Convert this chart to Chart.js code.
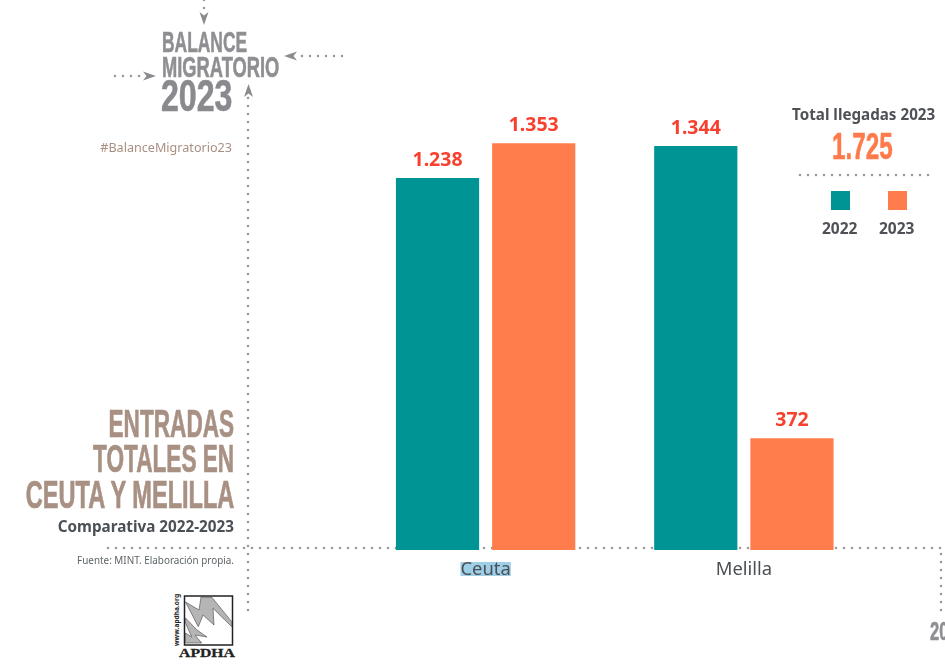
<!DOCTYPE html>
<html lang="es">
<head>
<meta charset="utf-8">
<title>Entradas totales en Ceuta y Melilla</title>
<script src="https://cdn.jsdelivr.net/npm/chart.js@4"></script>
<style>
  html, body { margin: 0; padding: 0; background: #fff; }
  body { position: relative; width: 945px; height: 666px; overflow: hidden; font-family: "Noto Sans", sans-serif; }
  #decor, #chart { position: absolute; left: 0; top: 0; }
  #decor { z-index: 0; }
  #chart { z-index: 1; }
  .t { position: absolute; z-index: 2; white-space: nowrap; line-height: 1; }
  .cond { font-family: "Liberation Sans", sans-serif; font-weight: 700; transform-origin: 0 0; -webkit-text-stroke: 0.6px currentColor; }
  .condr { font-family: "Liberation Sans", sans-serif; font-weight: 700; transform-origin: 100% 0; -webkit-text-stroke: 0.7px currentColor; }
</style>
</head>
<body>
<svg id="decor" width="945" height="666" xmlns="http://www.w3.org/2000/svg">
  <g fill="none" stroke="#9a9a9a" stroke-width="2.6" stroke-linecap="round" stroke-dasharray="0 8">
    <line x1="108" y1="548" x2="941" y2="548"/>
    <line x1="248" y1="98" x2="248" y2="611"/>
    <line x1="941" y1="554" x2="941" y2="611"/>
    <line x1="800" y1="175" x2="930" y2="175"/>
    <line x1="204" y1="0" x2="204" y2="10"/>
    <line x1="342" y1="56" x2="300" y2="56"/>
    <line x1="115" y1="76" x2="140" y2="76"/>
  </g>
  <g fill="#8b8b8f">
    <path d="M199.500 12 L204 15.500 L208.500 12 L204 25 Z"/>
    <path d="M284 56 L297 51.500 L293.500 56 L297 60.500 Z"/>
    <path d="M156 76 L143 71.500 L146.500 76 L143 80.500 Z"/>
    <path d="M248.500 84 L244 97 L248.500 93.500 L253 97 Z"/>
  </g>
  <!-- Logotipo de APDHA -->
  <rect x="184.500" y="596" width="48" height="49" fill="#fff" stroke="#222" stroke-width="1.500"/>
  <path d="M185.500 602 L199 610 L201 597 L212 597.500 L231.700 621.700 L231.700 626.700 L213 608.300 L214 625 L203 615 L198.300 626.700 Z" fill="#b5b5b5" stroke="#444" stroke-width="0.600"/>
  <path d="M185.500 618 L197 630 L207 637 L195 635 L201.700 643 L185.500 643 L185.500 633 L191.700 637 L185.500 623 Z" fill="#b5b5b5" stroke="#444" stroke-width="0.600"/>
  <text transform="translate(178.500 646) rotate(-90)" font-family="Noto Sans" font-weight="700" font-size="6.500" textLength="52" fill="#222">www.apdha.org</text>
  <text x="179" y="657" font-family="Liberation Serif" font-weight="700" font-size="13" textLength="56" lengthAdjust="spacingAndGlyphs" stroke="#222" stroke-width="0.300" fill="#222">APDHA</text>
</svg>
<canvas id="chart" width="945" height="666"></canvas>

<div class="t cond" style="left:162px;top:27px;font-size:30px;color:#8f8f93;transform:scaleX(.58);">BALANCE</div>
<div class="t cond" style="left:162px;top:52px;font-size:30px;color:#8f8f93;transform:scaleX(.61);">MIGRATORIO</div>
<div class="t cond" style="left:161px;top:74px;font-size:44px;color:#8a8a8e;transform:scaleX(.73);">2023</div>
<div class="t" style="right:713px;top:142px;font-size:12.600px;color:#a98f80;">#BalanceMigratorio23</div>

<div class="t condr" style="right:711px;top:405px;font-size:38px;color:#a89083;transform:scaleX(.595);">ENTRADAS</div>
<div class="t condr" style="right:711px;top:440px;font-size:38px;color:#a89083;transform:scaleX(.595);">TOTALES EN</div>
<div class="t condr" style="right:711px;top:476px;font-size:38px;color:#a89083;transform:scaleX(.62);">CEUTA Y MELILLA</div>
<div class="t" style="right:711px;top:519px;font-size:15.250px;font-weight:700;color:#4a5055;">Comparativa 2022-2023</div>
<div class="t" style="right:711px;top:556px;font-size:9.900px;color:#5d6468;">Fuente: MINT. Elaboración propia.</div>

<div class="t" style="left:792px;top:107px;font-size:15.200px;font-weight:700;color:#4e5257;">Total llegadas 2023</div>
<div class="t cond" style="left:832px;top:128px;font-size:37px;color:#ff7a4a;transform:scaleX(.655);">1.725</div>
<div class="t" style="left:822px;top:221px;font-size:15.500px;font-weight:700;color:#4e5257;">2022</div>
<div class="t" style="left:879px;top:221px;font-size:15.500px;font-weight:700;color:#4e5257;">2023</div>
<div class="t cond" style="left:930px;top:619px;font-size:25px;color:#8f8f93;transform:scaleX(.66);">20</div>

<script>
// Llegadas por ciudad autónoma y año
const categories = ["Ceuta", "Melilla"];
const seriesNames = ["2022", "2023"];
const values2022 = [1238, 1344];
const values2023 = [1353, 372];
const colors = ["#009494", "#ff7c4d"];

const numberEs = v => v >= 1000 ? Math.floor(v / 1000) + "." + String(v % 1000).padStart(3, "0") : String(v);

// Cifras encima de cada barra
const valueLabels = {
  id: "valueLabels",
  afterDatasetsDraw(chart) {
    const { ctx } = chart;
    ctx.save();
    ctx.font = '700 19.500px "Noto Sans", sans-serif';
    ctx.fillStyle = "#f8402f";
    ctx.textAlign = "center";
    ctx.textBaseline = "alphabetic";
    chart.data.datasets.forEach((ds, i) => {
      chart.getDatasetMeta(i).data.forEach((bar, j) => {
        ctx.fillText(numberEs(ds.data[j]), bar.x, bar.y - 12);
      });
    });
    ctx.restore();
  }
};

// Resaltado tras la etiqueta de Ceuta
const tickHighlight = {
  id: "tickHighlight",
  beforeDraw(chart) {
    const { ctx, scales: { x } } = chart;
    ctx.save();
    ctx.font = '18.400px "Noto Sans", sans-serif';
    const w = ctx.measureText(categories[0]).width;
    ctx.fillStyle = "#9fcfe8";
    ctx.fillRect(x.getPixelForValue(0) - w / 2, 562, w, 14);
    ctx.restore();
  }
};

// Leyenda cuadrada en la esquina superior derecha
const legendSquares = {
  id: "legendSquares",
  afterDraw(chart) {
    const { ctx } = chart;
    ctx.save();
    colors.forEach((c, i) => {
      ctx.fillStyle = c;
      ctx.fillRect(i === 0 ? 831 : 888, 191, 19, 19);
    });
    ctx.restore();
  }
};

new Chart(document.getElementById("chart"), {
  type: "bar",
  data: {
    labels: categories,
    datasets: [
      { label: seriesNames[0], data: values2022, backgroundColor: colors[0] },
      { label: seriesNames[1], data: values2023, backgroundColor: colors[1] }
    ]
  },
  options: {
    responsive: false,
    animation: false,
    events: [],
    layout: { padding: { left: 356.5, right: 72, top: 0, bottom: 0 } },
    categoryPercentage: 0.745,
    barPercentage: 0.865,
    plugins: { legend: { display: false }, tooltip: { enabled: false } },
    scales: {
      x: {
        grid: { display: false },
        border: { display: false },
        afterFit(s) { s.height = 116; },
        ticks: { color: "#4a5055", padding: 1, font: { family: "Noto Sans", size: 18.4 }, maxRotation: 0 }
      },
      y: { display: false, min: 0, max: 1830 }
    }
  },
  plugins: [tickHighlight, valueLabels, legendSquares]
});
</script>
</body>
</html>
